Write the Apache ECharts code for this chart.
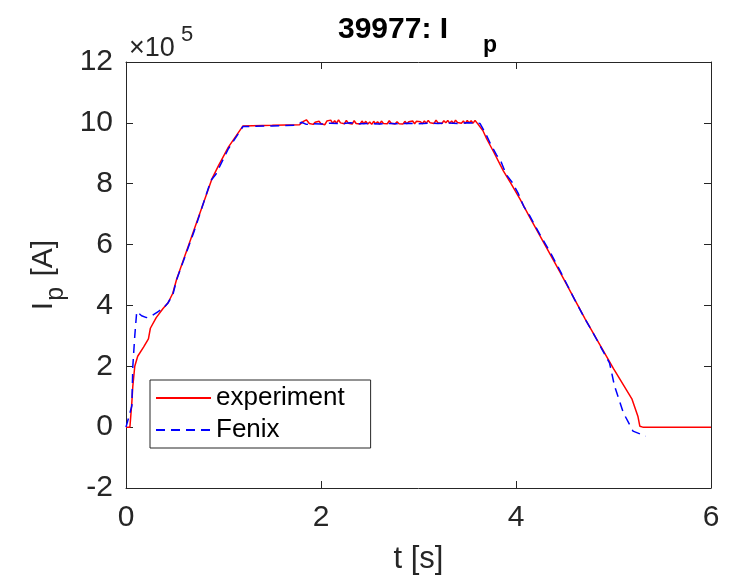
<!DOCTYPE html>
<html>
<head>
<meta charset="utf-8">
<script src="https://cdn.jsdelivr.net/npm/echarts@6/dist/echarts.min.js"></script>
<style>
  html, body { margin: 0; padding: 0; background: #ffffff; }
  #chart { width: 741px; height: 575px; }
</style>
</head>
<body>
<div id="chart"></div>
<script>
// Plasma current of shot 39977, in units of 1e5 A.
const xTicks = [0, 2, 4, 6];
const yTicks = [-2, 0, 2, 4, 6, 8, 10, 12];

const expTime = [
  0, 0.04, 0.06, 0.07, 0.09, 0.12, 0.18, 0.23, 0.25, 0.27, 0.31, 0.38, 0.43, 0.48, 0.52,
  0.70, 0.88, 0.95, 1.05, 1.20, 1.50, 1.78, 1.82, 1.85,
  1.88, 1.90, 1.92, 1.94, 1.96, 1.98, 2.00, 2.02, 2.04, 2.06,
  2.08, 2.10, 2.12, 2.14, 2.16, 2.18, 2.20, 2.22, 2.24, 2.26,
  2.28, 2.30, 2.32, 2.34, 2.36, 2.38, 2.40, 2.42, 2.44, 2.46,
  2.48, 2.50, 2.52, 2.54, 2.56, 2.58, 2.60, 2.62, 2.64, 2.66,
  2.68, 2.70, 2.72, 2.74, 2.76, 2.78, 2.80, 2.82, 2.84, 2.86,
  2.88, 2.90, 2.92, 2.94, 2.96, 2.98, 3.00, 3.02, 3.04, 3.06,
  3.08, 3.10, 3.12, 3.14, 3.16, 3.18, 3.20, 3.22, 3.24, 3.26,
  3.28, 3.30, 3.32, 3.34, 3.36, 3.38, 3.40, 3.42, 3.44, 3.46,
  3.48, 3.50, 3.52, 3.54, 3.56, 3.58, 3.60, 3.62,
  3.66, 3.70, 3.77, 3.87, 3.94, 4.04, 4.14, 4.45, 4.71, 5.00, 5.19, 5.25, 5.27, 5.30, 6.00
];
const expCurrent = [
  0, 0, 0.82, 1.35, 2.00, 2.33, 2.63, 2.90, 3.25, 3.20, 3.60, 3.90, 4.08, 4.40, 4.87,
  6.50, 8.15, 8.60, 9.20, 9.90, 9.92, 9.94, 10.05, 10.10,
  9.98, 10.04, 9.95, 10.02, 9.96, 10.05, 9.97, 10.03, 9.94, 10.06,
  10.00, 10.09, 9.98, 10.07, 9.99, 10.10, 10.00, 10.06, 9.97, 10.08,
  9.99, 10.05, 9.96, 10.07, 9.98, 10.04, 9.96, 10.06, 9.97, 10.05,
  9.96, 10.03, 9.95, 10.05, 9.97, 10.04, 9.96, 10.06, 9.98, 10.04,
  9.97, 10.07, 9.99, 10.05, 9.96, 10.04, 9.97, 10.03, 9.96, 10.05,
  9.97, 10.04, 9.98, 10.06, 9.97, 10.05, 9.99, 10.04, 9.97, 10.06,
  9.99, 10.08, 10.00, 10.06, 9.98, 10.09, 10.00, 10.05, 9.98, 10.07,
  10.00, 10.08, 9.99, 10.06, 9.98, 10.09, 10.01, 10.07, 9.99, 10.06,
  9.98, 10.08, 10.00, 10.07, 9.99, 10.08, 10.00, 10.05,
  9.75, 9.47, 9.05, 8.42, 8.05, 7.50, 6.90, 5.10, 3.55, 1.92, 0.92, 0.36, 0.03, 0, 0
];

const fenixTime = [
  0, 0.02, 0.06, 0.07, 0.09, 0.11, 0.13, 0.16, 0.21, 0.26, 0.33, 0.38, 0.43, 0.48, 0.52,
  0.70, 0.87, 0.92, 1.05, 1.20, 1.50, 1.75, 1.80, 1.85,
  1.90, 2.00, 2.10, 2.20, 2.30, 2.40, 2.50, 2.60, 2.70, 2.80, 2.90, 3.00, 3.10, 3.20,
  3.30, 3.40, 3.50, 3.60, 3.63,
  3.68, 3.74, 3.80, 3.85, 3.90, 3.96, 4.02, 4.08, 4.14, 4.25, 4.35, 4.45, 4.60, 4.70,
  4.79, 4.96, 5.01, 5.10, 5.20, 5.33
];
const fenixCurrent = [
  0, 0, 0.70, 2.00, 3.00, 3.80, 3.75, 3.66, 3.60, 3.65, 3.80, 3.90, 4.08, 4.35, 4.85,
  6.45, 8.10, 8.30, 9.15, 9.88, 9.90, 9.92, 10.02, 9.95,
  9.97, 9.96, 9.99, 9.97, 10.00, 9.97, 9.98, 9.96, 9.98, 9.97, 9.99, 9.97, 9.99, 9.98,
  10.00, 9.98, 10.00, 9.99, 9.98,
  9.70, 9.30, 8.95, 8.70, 8.30, 8.05, 7.70, 7.25, 6.95, 6.30, 5.75, 5.15, 4.20, 3.60,
  3.10, 2.10, 1.36, 0.48, -0.13, -0.30
];

const pairs = (t, v) => t.map((x, i) => [x, v[i]]);

const axisColor = '#262626';
const baseFont = 'Liberation Sans, Arial, Helvetica, sans-serif';

const chart = echarts.init(document.getElementById('chart'), null, { renderer: 'canvas' });

const axisLine = { show: true, onZero: false, lineStyle: { color: axisColor, width: 1 } };
const axisTick = { show: true, inside: true, length: 7, lineStyle: { color: axisColor } };

const mirrorAxis = {
  show: true,
  axisLine: axisLine,
  axisTick: axisTick,
  axisLabel: { show: false },
  splitLine: { show: false }
};

chart.setOption({
  backgroundColor: '#ffffff',
  animation: false,
  title: [
    {
      text: '39977: I',
      left: 333, top: 10,
      textStyle: { fontFamily: baseFont, fontSize: 30, fontWeight: 'bold', color: '#000000' }
    },
    {
      text: 'p',
      left: 478, top: 29,
      textStyle: { fontFamily: baseFont, fontSize: 23, fontWeight: 'bold', color: '#000000' }
    }
  ],
  graphic: [
    {
      type: 'text', left: 129, top: 35,
      style: { text: '×10', font: '27px ' + baseFont, fill: axisColor }
    },
    {
      type: 'text', left: 181, top: 24,
      style: { text: '5', font: '22px ' + baseFont, fill: axisColor }
    }
  ],
  legend: {
    orient: 'vertical',
    left: 150, top: 380,
    padding: [5, 26, 5, 5],
    itemGap: 6,
    itemWidth: 55,
    itemHeight: 26,
    backgroundColor: '#ffffff',
    borderColor: '#262626',
    borderWidth: 1,
    borderRadius: 0,
    itemStyle: { color: 'rgba(0,0,0,0)', borderWidth: 0, opacity: 0 },
    textStyle: { fontFamily: baseFont, fontSize: 26, color: '#000000', lineHeight: 26 },
    data: ['experiment', 'Fenix']
  },
  grid: { left: 126, right: 30, top: 62, bottom: 87, containLabel: false, outerBoundsMode: 'none' },
  xAxis: [
    {
      type: 'value', min: xTicks[0], max: xTicks[xTicks.length - 1], interval: 2,
      position: 'bottom',
      name: 't [s]', nameLocation: 'middle', nameGap: 56,
      nameTextStyle: { fontFamily: baseFont, fontSize: 31, color: axisColor },
      axisLine: axisLine,
      axisTick: axisTick,
      axisLabel: { fontFamily: baseFont, fontSize: 30, color: axisColor, margin: 15 },
      splitLine: { show: false }
    },
    Object.assign({ type: 'value', min: 0, max: 6, interval: 2, position: 'top' }, mirrorAxis)
  ],
  yAxis: [
    {
      type: 'value', min: yTicks[0], max: yTicks[yTicks.length - 1], interval: 2,
      position: 'left',
      name: '{n|I}{s|p}{n| [A]}', nameLocation: 'middle', nameGap: 54, nameRotate: 90,
      nameTextStyle: {
        color: axisColor,
        rich: {
          n: { fontFamily: baseFont, fontSize: 30, color: axisColor, lineHeight: 40, verticalAlign: 'top' },
          s: { fontFamily: baseFont, fontSize: 25, color: axisColor, lineHeight: 40, verticalAlign: 'bottom', padding: [20, 2, 0, 1] }
        }
      },
      axisLine: axisLine,
      axisTick: axisTick,
      axisLabel: { fontFamily: baseFont, fontSize: 30, color: axisColor, margin: 13 },
      splitLine: { show: false }
    },
    Object.assign({ type: 'value', min: -2, max: 12, interval: 2, position: 'right' }, mirrorAxis)
  ],
  series: [
    {
      name: 'experiment', type: 'line', xAxisIndex: 0, yAxisIndex: 0,
      data: pairs(expTime, expCurrent),
      showSymbol: false, symbol: 'none',
      lineStyle: { color: '#ff0000', width: 1.5 },
      itemStyle: { color: '#ff0000' },
      z: 3
    },
    {
      name: 'Fenix', type: 'line', xAxisIndex: 0, yAxisIndex: 0,
      data: pairs(fenixTime, fenixCurrent),
      showSymbol: false, symbol: 'none',
      lineStyle: { color: '#0000ff', width: 1.5, type: [9, 6] },
      itemStyle: { color: '#0000ff' },
      z: 4
    }
  ]
});
</script>
</body>
</html>
